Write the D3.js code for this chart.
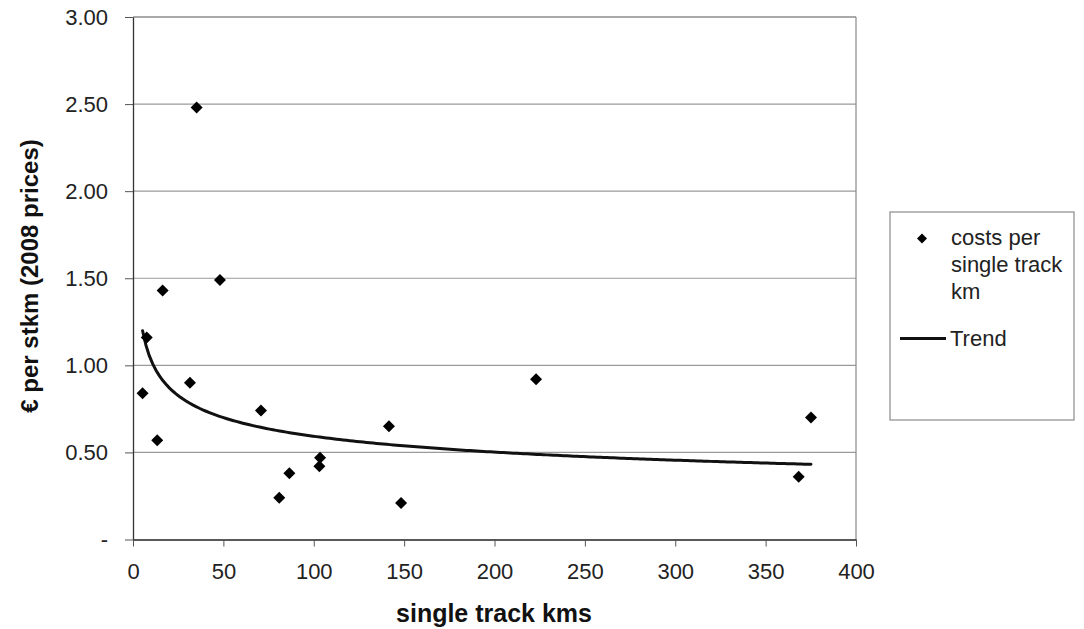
<!DOCTYPE html>
<html>
<head>
<meta charset="utf-8">
<script src="https://cdn.jsdelivr.net/npm/d3@7"></script>
<style>
  html, body { margin: 0; padding: 0; background: #fff; }
  svg { display: block; font-family: "Liberation Sans", Arial, sans-serif; }
</style>
</head>
<body>
<svg id="chart" width="1084" height="629"></svg>
<script>
// Single track length (km) of each line section
const trackKms = [5.3, 7.6, 13.4, 16.4, 31.5, 35.2, 48.1, 70.8, 80.9, 86.5,
                  103.5, 103.1, 141.6, 148.3, 223, 368.3, 375.1];
// Cost per single track km, € (2008 prices)
const costPerKm = [0.84, 1.16, 0.57, 1.43, 0.90, 2.48, 1.49, 0.74, 0.24, 0.38,
                   0.47, 0.42, 0.65, 0.21, 0.92, 0.36, 0.70];

const xTicks = [0, 50, 100, 150, 200, 250, 300, 350, 400];
const yTicks = [0, 0.5, 1.0, 1.5, 2.0, 2.5, 3.0];
const yTickLabels = ["-", "0.50", "1.00", "1.50", "2.00", "2.50", "3.00"];

const legendLabels = [["costs per", "single track", "km"], ["Trend"]];

const svg = d3.select("#chart");
const plot = { left: 133, right: 856, top: 17, bottom: 539.5 };
const FONT = "Liberation Sans, Arial, sans-serif";

const x = d3.scaleLinear().domain([0, 400]).range([plot.left, plot.right]);
const y = d3.scaleLinear().domain([0, 3]).range([plot.bottom, plot.top]);

// Horizontal gridlines
svg.append("g")
  .selectAll("line")
  .data(yTicks.filter(d => d > 0))
  .join("line")
  .attr("x1", plot.left).attr("x2", plot.right)
  .attr("y1", d => y(d)).attr("y2", d => y(d))
  .attr("stroke", d => d === 3 ? "#555" : "#9a9a9a")
  .attr("stroke-width", 1.2);

// Right frame edge
svg.append("line")
  .attr("x1", plot.right).attr("x2", plot.right)
  .attr("y1", plot.top).attr("y2", plot.bottom)
  .attr("stroke", "#8a8a8a").attr("stroke-width", 1.2);

// Y axis
const yAxis = d3.axisLeft(y)
  .tickValues(yTicks)
  .tickFormat((d, i) => yTickLabels[i])
  .tickSizeInner(8).tickSizeOuter(0).tickPadding(17);
const gy = svg.append("g").attr("transform", `translate(${plot.left},0)`).call(yAxis);
gy.select(".domain").attr("stroke", "#333").attr("stroke-width", 1.3);
gy.selectAll(".tick line").attr("stroke", "#555");
gy.selectAll(".tick text").attr("font-size", 22).attr("fill", "#222")
  .attr("font-family", FONT);

// X axis
const xAxis = d3.axisBottom(x)
  .tickValues(xTicks)
  .tickFormat(d3.format("d"))
  .tickSizeInner(7).tickSizeOuter(0).tickPadding(17);
const gx = svg.append("g").attr("transform", `translate(0,${plot.bottom})`).call(xAxis);
gx.select(".domain").attr("stroke", "#222").attr("stroke-width", 1.5);
gx.selectAll(".tick line").attr("stroke", "#555");
gx.selectAll(".tick text").attr("font-size", 22).attr("fill", "#222")
  .attr("font-family", FONT);

// Axis titles
svg.append("text")
  .attr("x", 494).attr("y", 622)
  .attr("text-anchor", "middle")
  .attr("font-size", 25).attr("font-weight", "bold").attr("fill", "#111")
  .text("single track kms");

svg.append("text")
  .attr("transform", "translate(38,276) rotate(-90)")
  .attr("text-anchor", "middle")
  .attr("font-size", 24).attr("font-weight", "bold").attr("fill", "#111")
  .text("€ per stkm (2008 prices)");

// Power trend y = c * x^b, least squares on log-log values
const points = trackKms.map((k, i) => ({ k, v: costPerKm[i] }));
const lx = points.map(p => Math.log(p.k));
const ly = points.map(p => Math.log(p.v));
const mx = d3.mean(lx), my = d3.mean(ly);
const b = d3.sum(lx, (v, i) => (v - mx) * (ly[i] - my)) / d3.sum(lx, v => (v - mx) ** 2);
const c = Math.exp(my - b * mx);
const [kMin, kMax] = d3.extent(trackKms);
const trend = d3.range(0, 201).map(i => {
  const k = kMin + (kMax - kMin) * i / 200;
  return { k, v: c * Math.pow(k, b) };
});

svg.append("path")
  .datum(trend)
  .attr("fill", "none")
  .attr("stroke", "#111")
  .attr("stroke-width", 3)
  .attr("stroke-linecap", "round")
  .attr("d", d3.line().x(d => x(d.k)).y(d => y(d.v)));

// Diamond markers
const diamond = (r) => `M0,${-r}L${r},0L0,${r}L${-r},0Z`;
svg.append("g")
  .selectAll("path")
  .data(points)
  .join("path")
  .attr("transform", d => `translate(${x(d.k)},${y(d.v)})`)
  .attr("d", diamond(6))
  .attr("fill", "#000");

// Legend
const lg = svg.append("g");
lg.append("rect")
  .attr("x", 890).attr("y", 212).attr("width", 184).attr("height", 208)
  .attr("fill", "#fff").attr("stroke", "#8a8a8a").attr("stroke-width", 1.2);
lg.append("path")
  .attr("transform", "translate(922,238.5)")
  .attr("d", diamond(5))
  .attr("fill", "#000");
lg.append("text")
  .attr("x", 951).attr("y", 245)
  .attr("font-size", 22).attr("fill", "#222")
  .selectAll("tspan")
  .data(legendLabels[0])
  .join("tspan")
  .attr("x", 951)
  .attr("dy", (d, i) => i === 0 ? 0 : 27)
  .text(d => d);
lg.append("line")
  .attr("x1", 900).attr("x2", 946).attr("y1", 338.5).attr("y2", 338.5)
  .attr("stroke", "#111").attr("stroke-width", 3);
lg.append("text")
  .attr("x", 950).attr("y", 345.5)
  .attr("font-size", 22).attr("fill", "#222")
  .text(legendLabels[1][0]);
</script>
</body>
</html>
